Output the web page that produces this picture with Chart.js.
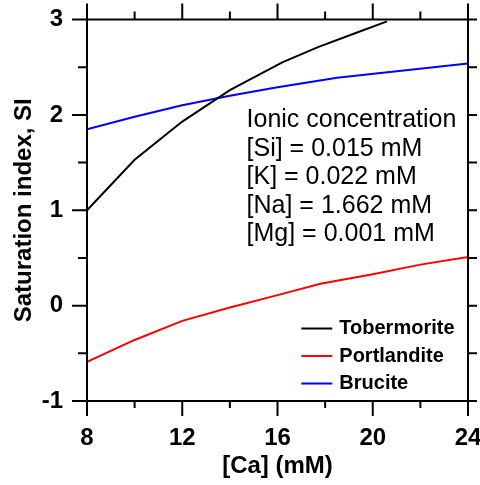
<!DOCTYPE html>
<html>
<head>
<meta charset="utf-8">
<script src="https://cdn.jsdelivr.net/npm/chart.js@4/dist/chart.umd.min.js"></script>
<style>
html,body{margin:0;padding:0;background:#fff;}
#wrap{width:480px;height:485px;position:relative;}
</style>
</head>
<body>
<div id="wrap"><canvas id="c"></canvas></div>
<script>
// ---- data ----
const tobermoriteCa = [8, 10, 12, 14, 16.2, 17.7, 19.2, 20.6];
const tobermoriteSI = [1.0, 1.53, 1.93, 2.26, 2.55, 2.71, 2.85, 2.98];
const portlanditeCa = [8, 10, 12, 14, 16, 17.8, 20, 22, 24];
const portlanditeSI = [-0.59, -0.36, -0.16, -0.02, 0.11, 0.23, 0.33, 0.43, 0.51];
const bruciteCa = [8, 10, 12, 14, 16, 18.5, 24];
const bruciteSI = [1.85, 1.98, 2.10, 2.20, 2.29, 2.39, 2.54];
const seriesNames = ['Tobermorite', 'Portlandite', 'Brucite'];
const xTickLabels = [8, 12, 16, 20, 24];
const yTickLabels = [-1, 0, 1, 2, 3];
const annotationLines = ['Ionic concentration', '[Si] = 0.015 mM', '[K] = 0.022 mM', '[Na] = 1.662 mM', '[Mg] = 0.001 mM'];

const pts = (xs, ys) => xs.map((x, i) => ({x: x, y: ys[i]}));
const FONT = '"Liberation Sans", Arial, sans-serif';

const framePlugin = {
  id: 'frame',
  afterDraw(chart) {
    const ctx = chart.ctx;
    const xs = chart.scales.x, ys = chart.scales.y;
    const a = chart.chartArea;
    ctx.save();
    ctx.strokeStyle = '#000';
    ctx.lineWidth = 2;
    ctx.lineCap = 'butt';
    // frame
    ctx.beginPath();
    ctx.rect(a.left, a.top, a.right - a.left, a.bottom - a.top);
    ctx.stroke();
    ctx.beginPath();
    // x ticks (bottom outward, top outward)
    for (let v = 8; v <= 24; v += 2) {
      const px = xs.getPixelForValue(v);
      const major = (v % 4 === 0);
      ctx.moveTo(px, a.bottom); ctx.lineTo(px, a.bottom + (major ? 15 : 7));
      ctx.moveTo(px, a.top); ctx.lineTo(px, a.top - (major ? 16 : 8));
    }
    // y ticks (left outward, right outward)
    for (let v = -1; v <= 3.001; v += 0.5) {
      const py = ys.getPixelForValue(v);
      const major = Math.abs(v - Math.round(v)) < 1e-6;
      ctx.moveTo(a.left, py); ctx.lineTo(a.left - (major ? 15 : 9), py);
      ctx.moveTo(a.right, py); ctx.lineTo(a.right + 9, py);
    }
    ctx.stroke();
    // annotation
    ctx.fillStyle = '#000';
    ctx.font = '25px ' + FONT;
    ctx.textAlign = 'left';
    ctx.textBaseline = 'middle';
    const ax = xs.getPixelForValue(14.7);
    annotationLines.forEach((t, i) => {
      ctx.fillText(t, ax, ys.getPixelForValue(1.945) + i * 28.5);
    });
    // legend
    ctx.font = 'bold 20px ' + FONT;
    chart.data.datasets.forEach((ds, i) => {
      const y = ys.getPixelForValue(-0.24) + i * 27.5;
      const x0 = xs.getPixelForValue(17.0);
      ctx.strokeStyle = ds.borderColor;
      ctx.lineWidth = 2;
      ctx.beginPath();
      ctx.moveTo(x0, y); ctx.lineTo(x0 + 31, y);
      ctx.stroke();
      ctx.fillText(ds.label, x0 + 38, y);
    });
    ctx.restore();
  }
};

new Chart(document.getElementById('c'), {
  type: 'line',
  data: {
    datasets: [
      {label: seriesNames[0], data: pts(tobermoriteCa, tobermoriteSI), borderColor: '#000000'},
      {label: seriesNames[1], data: pts(portlanditeCa, portlanditeSI), borderColor: '#ff0000'},
      {label: seriesNames[2], data: pts(bruciteCa, bruciteSI), borderColor: '#0000ff'}
    ]
  },
  options: {
    responsive: true,
    maintainAspectRatio: false,
    animation: false,
    layout: {padding: {top: 19.5, right: 12, left: 0, bottom: 0}},
    elements: {
      line: {borderWidth: 2, tension: 0, fill: false},
      point: {radius: 0, hoverRadius: 0}
    },
    plugins: {legend: {display: false}, tooltip: {enabled: false}},
    scales: {
      x: {
        type: 'linear', min: 8, max: 24,
        afterBuildTicks: s => { s.ticks = xTickLabels.map(v => ({value: v})); },
        afterFit: s => { s.height = 84; s.paddingLeft = 0; s.paddingRight = 0; },
        grid: {display: true, drawOnChartArea: false, drawTicks: true, tickLength: 15, tickColor: 'rgba(0,0,0,0)'},
        border: {display: false},
        ticks: {color: '#000', font: {family: FONT, size: 24, weight: 'bold'}, padding: 8, maxRotation: 0},
        title: {display: true, text: '[Ca] (mM)', color: '#000', font: {family: FONT, size: 24, weight: 'bold', lineHeight: 1}, padding: {top: 0, bottom: 7}}
      },
      y: {
        type: 'linear', min: -1, max: 3,
        afterBuildTicks: s => { s.ticks = yTickLabels.map(v => ({value: v})); },
        afterFit: s => { s.width = 87; s.paddingTop = 0; s.paddingBottom = 0; },
        grid: {display: true, drawOnChartArea: false, drawTicks: true, tickLength: 15, tickColor: 'rgba(0,0,0,0)'},
        border: {display: false},
        ticks: {color: '#000', font: {family: FONT, size: 24, weight: 'bold'}, padding: 9},
        title: {display: true, text: 'Saturation index, SI', color: '#000', font: {family: FONT, size: 24, weight: 'bold', lineHeight: 1}, padding: {top: 12, bottom: 0}}
      }
    }
  },
  plugins: [framePlugin]
});
</script>
</body>
</html>
